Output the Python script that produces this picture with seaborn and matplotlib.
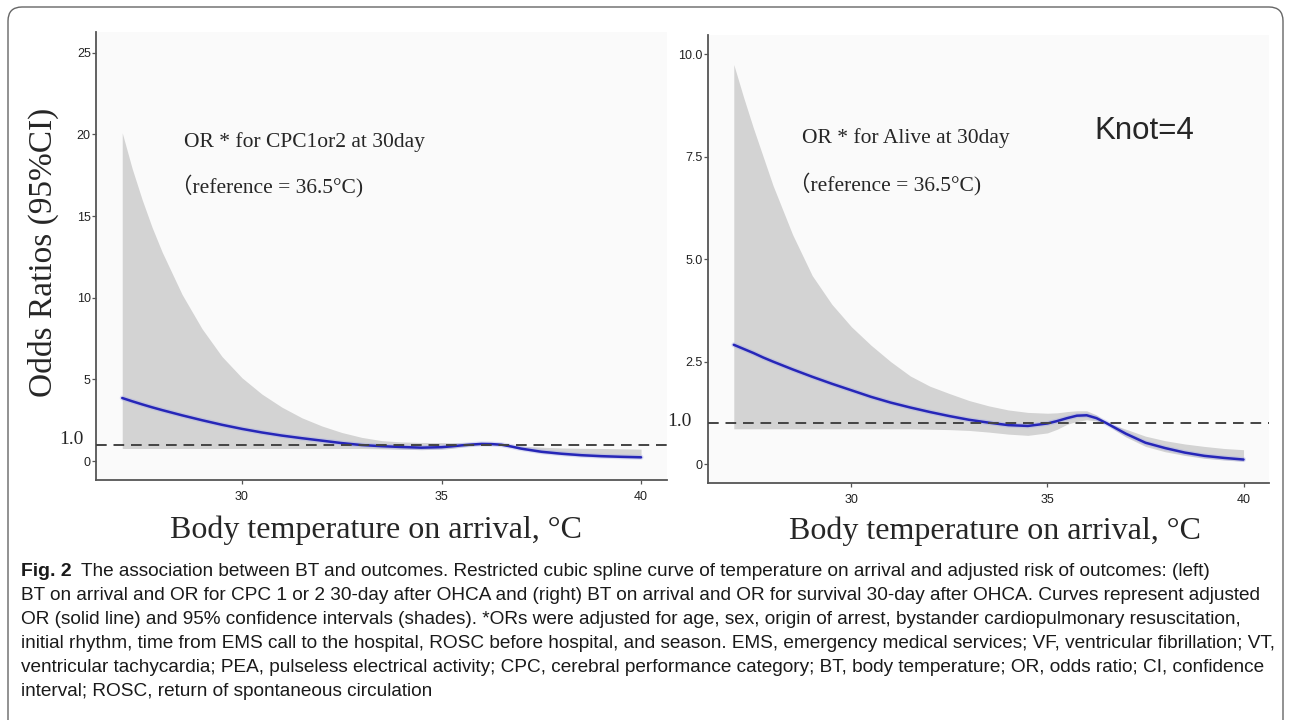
import numpy as np
import pandas as pd
import matplotlib
matplotlib.use("Agg")
import matplotlib.pyplot as plt
import seaborn as sns
from matplotlib.patches import FancyBboxPatch
from matplotlib.transforms import IdentityTransform

# ---------------- data ----------------
temp = [27, 27.25, 27.5, 27.75, 28, 28.5, 29, 29.5, 30, 30.5, 31, 31.5, 32, 32.5,
        33, 33.5, 34, 34.5, 35, 35.25, 35.5, 35.75, 36, 36.25, 36.5, 36.75,
        37, 37.5, 38, 38.5, 39, 39.5, 40]

cpc_or = [3.86, 3.66, 3.47, 3.29, 3.12, 2.80, 2.50, 2.22, 1.97, 1.75, 1.56, 1.40, 1.25, 1.10,
          0.98, 0.91, 0.86, 0.82, 0.85, 0.90, 0.96, 1.01, 1.05, 1.04, 1.00, 0.89,
          0.76, 0.57, 0.45, 0.36, 0.30, 0.26, 0.23]
cpc_hi = [20.1, 17.9, 16.0, 14.3, 12.8, 10.2, 8.1, 6.4, 5.1, 4.1, 3.3, 2.65, 2.15, 1.75,
          1.45, 1.25, 1.17, 1.14, 1.13, 1.125, 1.12, 1.12, 1.12, 1.09, 1.02, 0.96,
          0.92, 0.85, 0.80, 0.78, 0.77, 0.75, 0.73]
cpc_lo = [0.77, 0.77, 0.77, 0.77, 0.77, 0.77, 0.77, 0.77, 0.77, 0.77, 0.77, 0.77, 0.77, 0.77,
          0.77, 0.75, 0.72, 0.70, 0.73, 0.78, 0.86, 0.93, 0.98, 0.99, 0.98, 0.84,
          0.70, 0.50, 0.39, 0.30, 0.24, 0.20, 0.18]

alive_or = [2.91, 2.81, 2.71, 2.60, 2.50, 2.31, 2.13, 1.96, 1.80, 1.64, 1.50, 1.38, 1.27, 1.17,
            1.08, 1.01, 0.95, 0.93, 0.99, 1.05, 1.12, 1.18, 1.19, 1.12, 1.00, 0.87,
            0.74, 0.52, 0.39, 0.28, 0.20, 0.15, 0.11]
alive_hi = [9.75, 8.95, 8.20, 7.50, 6.80, 5.60, 4.60, 3.90, 3.35, 2.90, 2.50, 2.15, 1.90, 1.72,
            1.55, 1.42, 1.32, 1.26, 1.24, 1.25, 1.28, 1.30, 1.30, 1.20, 1.02, 0.93,
            0.85, 0.68, 0.57, 0.49, 0.43, 0.38, 0.35]
alive_lo = [0.86, 0.86, 0.86, 0.86, 0.86, 0.86, 0.86, 0.86, 0.86, 0.86, 0.86, 0.86, 0.85, 0.84,
            0.82, 0.78, 0.73, 0.70, 0.76, 0.85, 0.97, 1.04, 1.08, 1.05, 0.98, 0.81,
            0.66, 0.43, 0.30, 0.21, 0.14, 0.10, 0.07]

x_ticks = [30, 35, 40]
left_yticks = [0, 5, 10, 15, 20, 25]
left_yticklabels = ["0", "5", "10", "15", "20", "25"]
right_yticks = [0, 2.5, 5, 7.5, 10]
right_yticklabels = ["0", "2.5", "5.0", "7.5", "10.0"]
reference_or = 1.0

title_left = "OR * for CPC1or2 at 30day"
title_right = "OR * for Alive at 30day"
ref_text = "（reference = 36.5°C)"
knot_text = "Knot=4"
xlabel = "Body temperature on arrival, °C"
ylabel = "Odds Ratios (95%CI)"

caption_lines = [
    "The association between BT and outcomes. Restricted cubic spline curve of temperature on arrival and adjusted risk of outcomes: (left)",
    "BT on arrival and OR for CPC 1 or 2 30-day after OHCA and (right) BT on arrival and OR for survival 30-day after OHCA. Curves represent adjusted",
    "OR (solid line) and 95% confidence intervals (shades). *ORs were adjusted for age, sex, origin of arrest, bystander cardiopulmonary resuscitation,",
    "initial rhythm, time from EMS call to the hospital, ROSC before hospital, and season. EMS, emergency medical services; VF, ventricular fibrillation; VT,",
    "ventricular tachycardia; PEA, pulseless electrical activity; CPC, cerebral performance category; BT, body temperature; OR, odds ratio; CI, confidence",
    "interval; ROSC, return of spontaneous circulation",
]

df_cpc = pd.DataFrame({"temp": temp, "or": cpc_or, "lo": cpc_lo, "hi": cpc_hi})
df_alive = pd.DataFrame({"temp": temp, "or": alive_or, "lo": alive_lo, "hi": alive_hi})

# ---------------- style ----------------
sns.set_theme(style="ticks")
plt.rcParams["font.family"] = ["Liberation Sans", "DejaVu Sans"]

W, H = 1290, 720
fig = plt.figure(figsize=(W / 100, H / 100), dpi=100)
fig.patch.set_facecolor("white")

def px_axes(x0, y0, x1, y1):
    return fig.add_axes([x0 / W, 1 - y1 / H, (x1 - x0) / W, (y1 - y0) / H])

ax1 = px_axes(96.3, 31.7, 667, 480)
ax2 = px_axes(708.3, 35, 1269, 483.3)

SERIF = ["Liberation Serif", "Noto Sans CJK SC", "DejaVu Serif"]
BAND = "#d3d3d3"
LINE = "#2626b8"

def draw_panel(ax, df, ylim, yticks, yticklabels):
    ax.set_facecolor("#fafafa")
    ax.fill_between(df["temp"], df["lo"], df["hi"], color=BAND, lw=0, zorder=1)
    sns.lineplot(data=df, x="temp", y="or", ax=ax, color="#9fa3e6", lw=3.6,
                 alpha=0.35, zorder=2, legend=False)
    sns.lineplot(data=df, x="temp", y="or", ax=ax, color=LINE, lw=1.8, zorder=3, legend=False)
    ax.axhline(reference_or, color="#444444", lw=1.4, ls=(0, (5.5, 3.5)), zorder=4)
    ax.set_xlim(26.35, 40.65)
    ax.set_ylim(*ylim)
    ax.set_xticks(x_ticks)
    ax.set_xticklabels([str(v) for v in x_ticks])
    ax.set_yticks(yticks)
    ax.set_yticklabels(yticklabels)
    ax.set_xlabel("")
    ax.set_ylabel("")
    for s in ["top", "right"]:
        ax.spines[s].set_visible(False)
    for s in ["left", "bottom"]:
        ax.spines[s].set_color("#555555")
        ax.spines[s].set_linewidth(1.3)
    ax.tick_params(axis="both", length=3, width=0.9, color="#555555",
                   labelsize=9, labelcolor="#222222")
    ax.tick_params(axis="y", pad=1)
    ax.tick_params(axis="x", pad=5)
    ax.grid(False)

draw_panel(ax1, df_cpc, (-1.16, 26.29), left_yticks, left_yticklabels)
draw_panel(ax2, df_alive, (-0.47, 10.47), right_yticks, right_yticklabels)

def ftext(x, y, s, **kw):
    return fig.text(x / W, 1 - y / H, s, **kw)

# axis titles (drawn as figure text, serif)
ftext(43, 252, ylabel, rotation=90, ha="center", va="center", fontsize=24, family=SERIF)
ftext(376, 530, xlabel, ha="center", va="center", fontsize=23, family=SERIF)
ftext(995, 531, xlabel, ha="center", va="center", fontsize=23, family=SERIF)

# reference "1.0" labels
ftext(84, 439, "1.0", ha="right", va="center", fontsize=14, family=SERIF)
ftext(692, 421, "1.0", ha="right", va="center", fontsize=14, family=SERIF)

# annotations
ftext(184.4, 142, title_left, ha="left", va="center", fontsize=15.5, family=SERIF)
ftext(171, 186.5, ref_text, ha="left", va="center", fontsize=15.5, family=SERIF)
ftext(801.6, 138, title_right, ha="left", va="center", fontsize=15.5, family=SERIF)
ftext(789, 184.5, ref_text, ha="left", va="center", fontsize=15.5, family=SERIF)
ftext(1094, 131, knot_text, ha="left", va="center", fontsize=22.5, family=["Liberation Sans", "DejaVu Sans"])

# border
border = FancyBboxPatch((8, -30), 1275, H - 7 + 30, boxstyle="round,pad=0,rounding_size=14",
                        transform=IdentityTransform(), facecolor="none",
                        edgecolor="#666666", lw=1.0)
fig.add_artist(border)

# caption
cap_family = ["Liberation Sans", "DejaVu Sans"]
cap_y = [571, 595.5, 619.5, 643.5, 667.5, 691.5]
fig.canvas.draw()
r = fig.canvas.get_renderer()
probe = ftext(21, cap_y[3], caption_lines[3], fontsize=12, family=cap_family, va="center")
w = probe.get_window_extent(renderer=r).width
probe.remove()
cfs = 12 * 1260 / w

fig_lbl = ftext(21, cap_y[0], "Fig. 2", fontsize=cfs * 1.02, family=cap_family,
                fontweight="bold", va="center", color="#1a1a1a")
fig.canvas.draw()
lw_ = fig_lbl.get_window_extent(renderer=r).width
ftext(21 + lw_ + 9, cap_y[0], caption_lines[0], fontsize=cfs, family=cap_family,
      va="center", color="#1a1a1a")
for yy, line in zip(cap_y[1:], caption_lines[1:]):
    ftext(21, yy, line, fontsize=cfs, family=cap_family, va="center", color="#1a1a1a")

fig.savefig("out.png", dpi=100, facecolor="white")
